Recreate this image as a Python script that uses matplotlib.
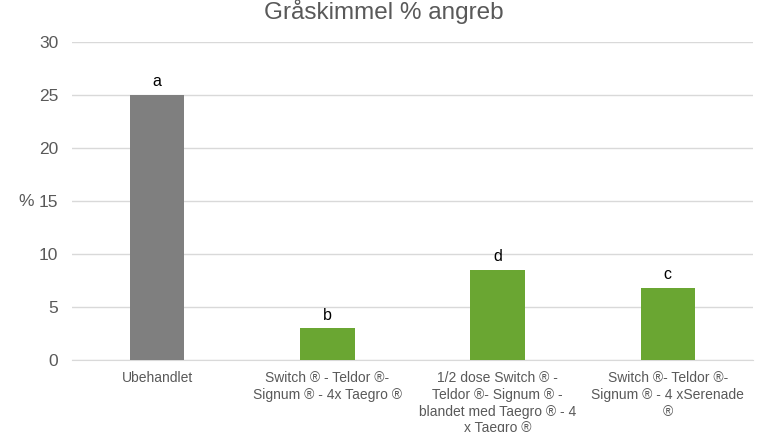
import matplotlib
matplotlib.use("Agg")
import matplotlib.pyplot as plt

categories = [
    "Ubehandlet",
    "Switch ® - Teldor ®-\nSignum ® - 4x Taegro ®",
    "1/2 dose Switch ® -\nTeldor ®- Signum ® -\nblandet med Taegro ® - 4\nx Taegro ®",
    "Switch ®- Teldor ®-\nSignum ® - 4 xSerenade\n®",
]
values = [25, 3.0, 8.5, 6.8]
letters = ["a", "b", "d", "c"]
colors = ["#7f7f7f", "#6aa632", "#6aa632", "#6aa632"]
yticks = [0, 5, 10, 15, 20, 25, 30]

plt.rcParams['font.family'] = ['Liberation Sans', 'DejaVu Sans']

fig = plt.figure(figsize=(7.68, 4.32), dpi=100)
ax = fig.add_axes([72/768, 1 - 360/432, (753-72)/768, (360-42)/432])

x = list(range(len(categories)))
ax.bar(x, values, width=0.32, color=colors, zorder=3)
for xi, v, l in zip(x, values, letters):
    ax.annotate(l, (xi, v), xytext=(0, 4), textcoords="offset points",
                ha="center", va="bottom", fontsize=11.5, color="black")

ax.set_xlim(-0.5, len(categories) - 0.5)
ax.set_ylim(0, 30)
ax.set_yticks(yticks)
ax.set_yticklabels([str(t) for t in yticks], fontsize=12.5, color="#595959")
ax.set_xticks(x)
ax.set_xticklabels(categories, fontsize=10, color="#595959", linespacing=1.25, va="top")
ax.tick_params(axis="both", length=0)
ax.tick_params(axis="y", pad=10)
ax.tick_params(axis="x", pad=8)
ax.grid(axis="y", color="#d9d9d9", linewidth=1, zorder=0)
for s in ["top", "right", "left"]:
    ax.spines[s].set_visible(False)
ax.spines["bottom"].set_color("#d9d9d9")
ax.set_ylabel("%", rotation=0, fontsize=12.5, color="#595959", va="center", ha="center")
ax.yaxis.set_label_coords(-0.068, 0.5)
fig.text(0.5, 1 - 12/432, "Gråskimmel % angreb", ha="center", va="center",
         fontsize=17.5, color="#595959")

fig.savefig("out.png", dpi=100, facecolor="white")
